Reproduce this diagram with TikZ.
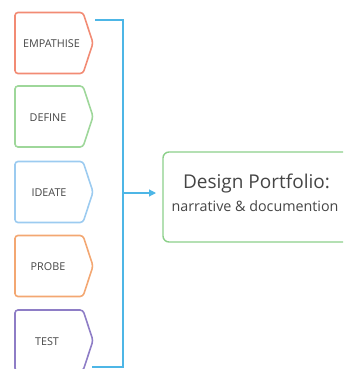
\documentclass[tikz,border=0pt]{standalone}
\usepackage{fontspec}
\setmainfont{Open Sans}
\usetikzlibrary{arrows.meta}
\definecolor{cEmp}{HTML}{F28B74}
\definecolor{cDef}{HTML}{9ED79A}
\definecolor{cIde}{HTML}{9CCBF0}
\definecolor{cPro}{HTML}{F3A772}
\definecolor{cTes}{HTML}{8E7DC6}
\definecolor{cLink}{HTML}{4DB6E6}
\definecolor{cPort}{HTML}{8CD08A}
\definecolor{txt}{HTML}{454545}
\tikzset{
  stage/.pic={
    \draw[line width=1.6pt, rounded corners=3pt, draw=#1]
      (-42,30.5) -- (26,30.5) -- (36,0) -- (26,-30.5) -- (-42,-30.5) -- cycle;
  },
  stagelabel/.style={font=\fontsize{10.8}{12}\selectfont, text=txt, inner sep=0pt},
  link/.style={draw=cLink, line width=1.2pt},
}
\begin{document}
\begin{tikzpicture}[x=1pt,y=-1pt]
\useasboundingbox (0,0) rectangle (343,369);
\clip (0,0) rectangle (343,369);
% the five stage tabs
\foreach \c/\y in {cEmp/43, cDef/116.5, cIde/192, cPro/266, cTes/340.5}{
  \pic at (57,\y) {stage=\c};
}
\node[stagelabel] (emp) at (51.5,44) {EMPATHISE};
\node[stagelabel] (def) at (48,117.5) {DEFINE};
\node[stagelabel] (ide) at (49,193) {IDEATE};
\node[stagelabel] (pro) at (48,267) {PROBE};
\node[stagelabel] (tes) at (47,341.5) {TEST};
% bracket collecting the stages
\coordinate (bt) at (95,20);
\coordinate (bb) at (92,367);
\coordinate (bm) at (123,193);
\draw[link] (bt) -- (123,20) -- (123,367) -- (bb);
% portfolio box
\draw[draw=cPort, line width=1.4pt, rounded corners=6pt] (163,152) rectangle (360,242);
\node[font=\fontsize{19}{21}\selectfont, text=txt, inner sep=0pt] (port) at (256.5,184) {Design Portfolio:};
\node[font=\fontsize{14.3}{16}\selectfont, text=txt, inner sep=0pt] (note) at (255,206) {narrative \& documention};
\coordinate (pin) at (156,193);
\draw[link, -{Triangle[length=7pt,width=7pt]}] (bm) -- (pin);
\end{tikzpicture}
\end{document}
